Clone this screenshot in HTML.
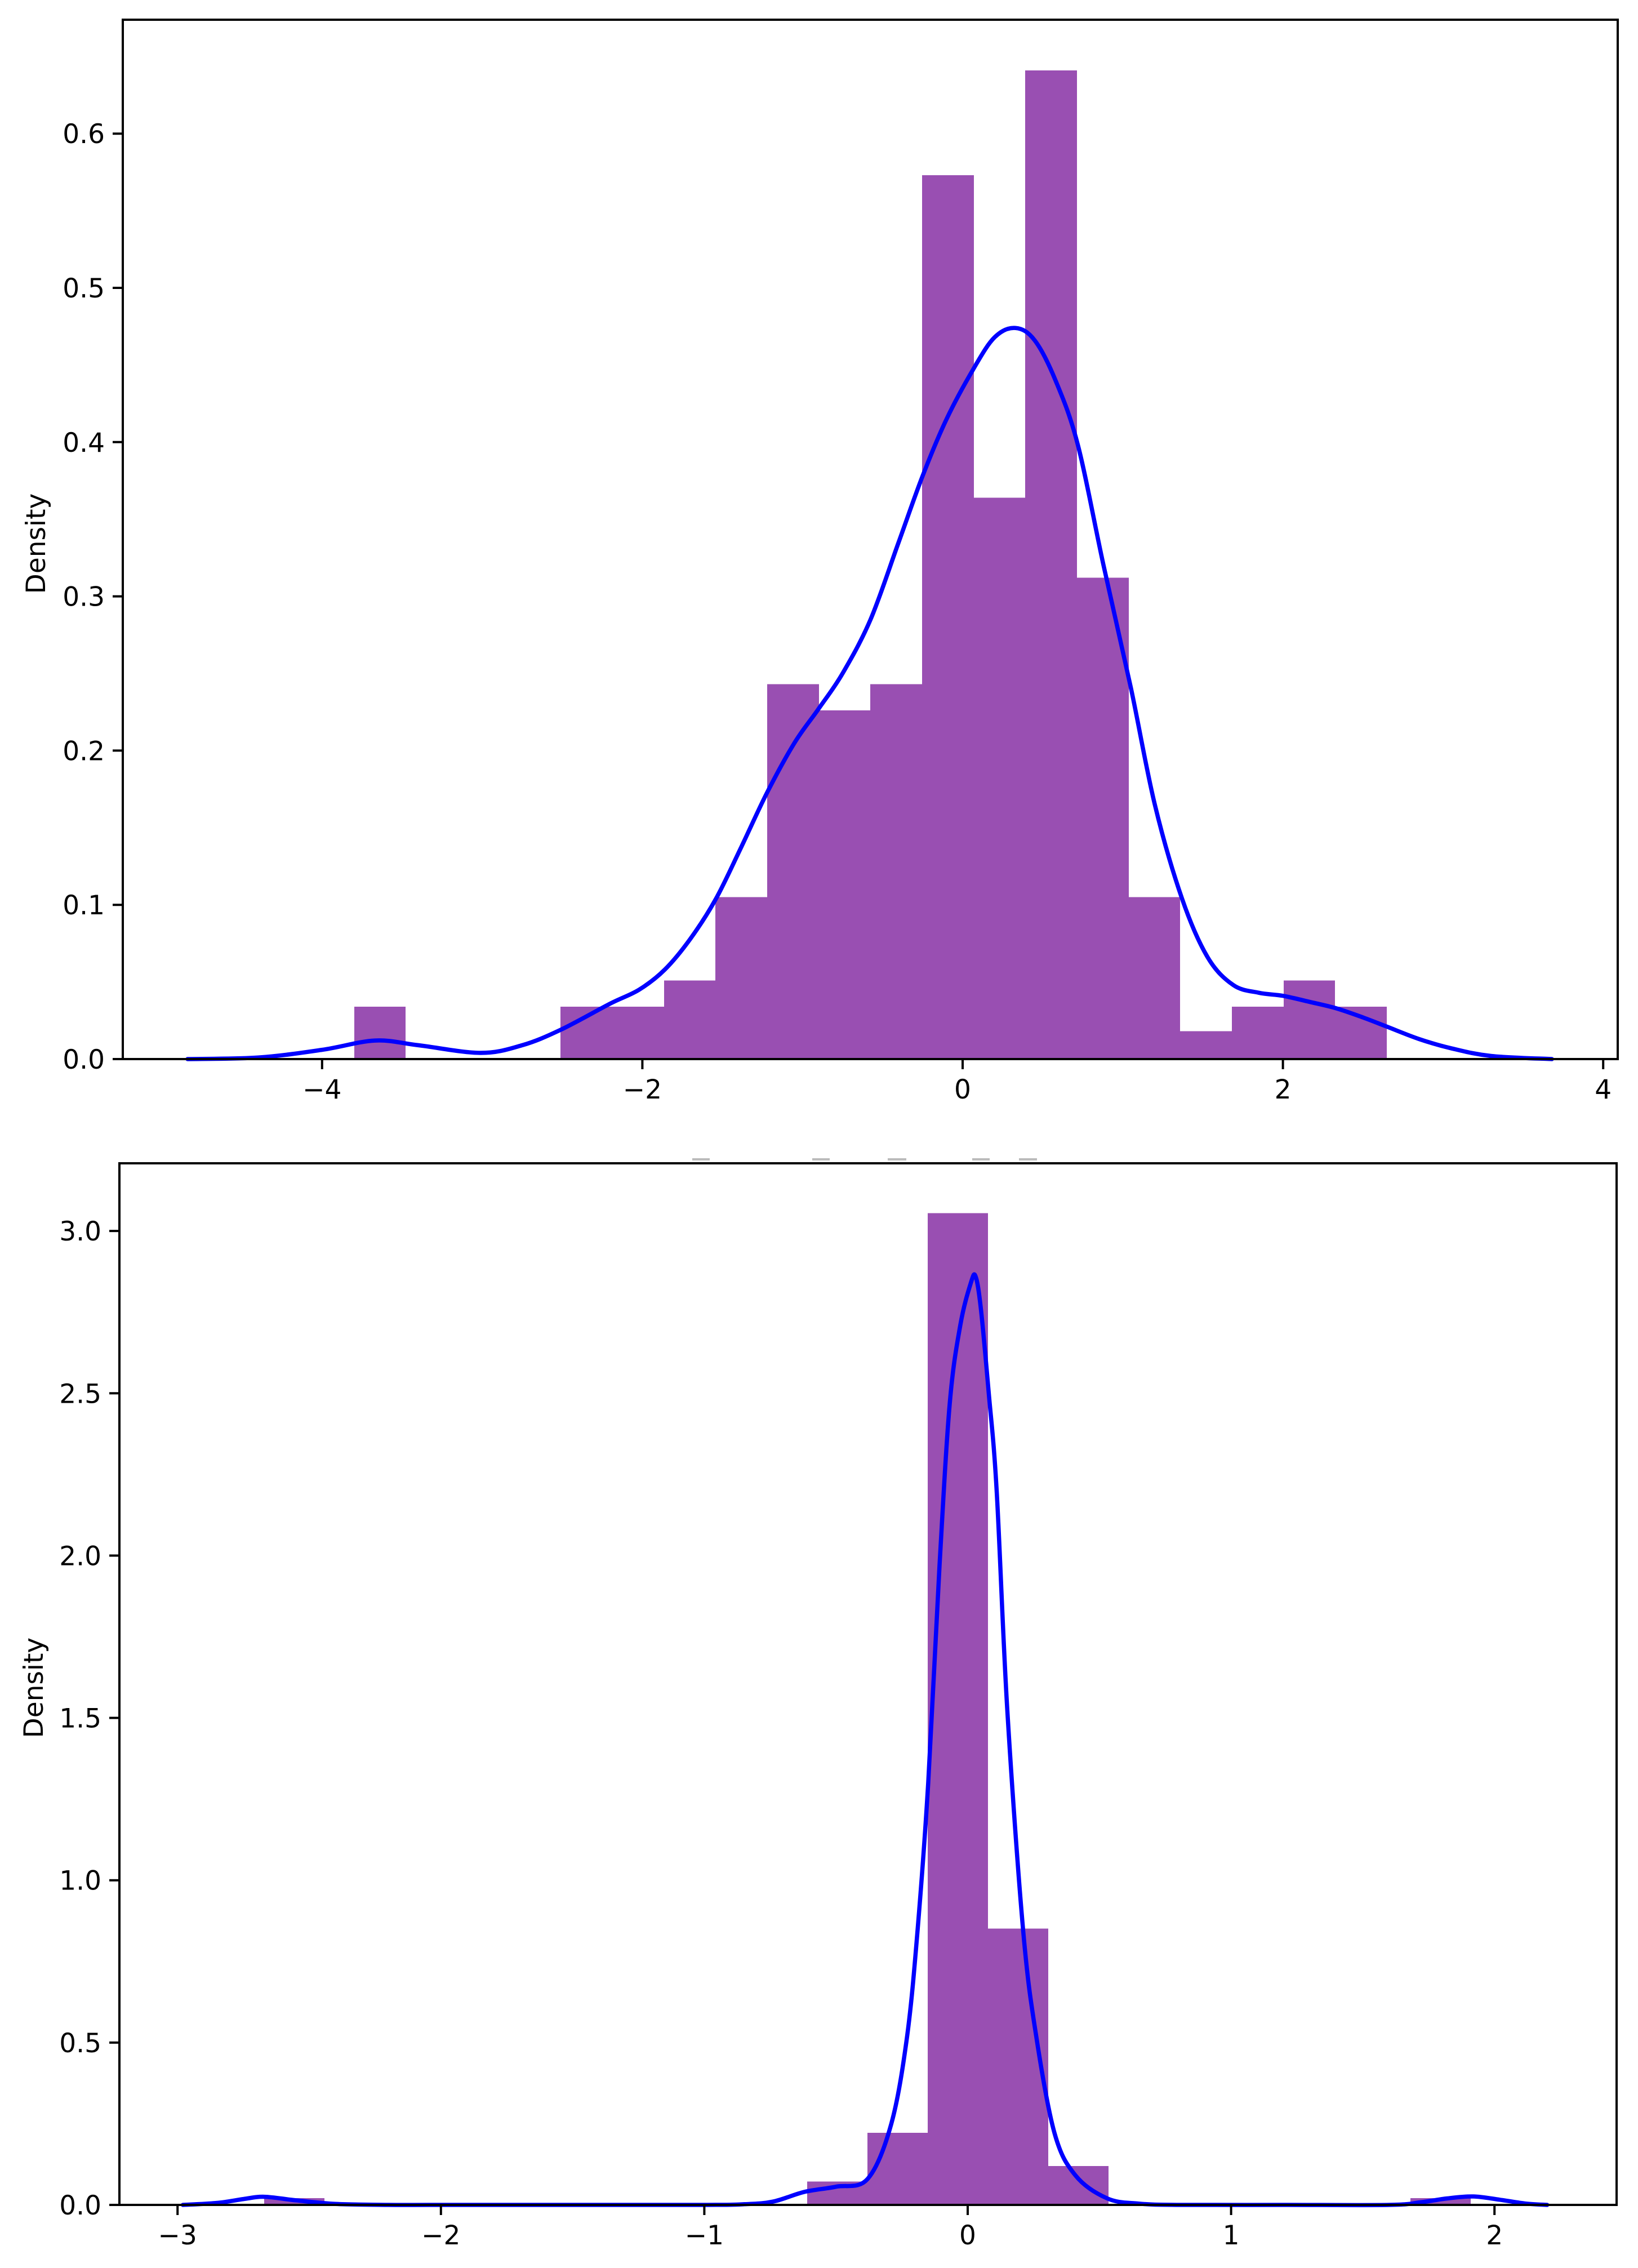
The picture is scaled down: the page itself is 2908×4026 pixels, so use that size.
<!DOCTYPE html>
<html><head><meta charset="utf-8">
<style>
html,body{margin:0;padding:0;background:#fff;}
svg{display:block;font-family:"DejaVu Sans","Liberation Sans",sans-serif;}
</style></head>
<body>
<svg id="fig" width="2908" height="4026" viewBox="0 0 2908 4026" xmlns="http://www.w3.org/2000/svg">
<rect x="0" y="0" width="2908" height="4026" fill="#fff"/>
<g fill="#bbbbbb">
<rect x="1229" y="2056" width="31" height="4"/><rect x="1442" y="2056" width="31" height="4"/><rect x="1576" y="2056" width="33" height="4"/><rect x="1726" y="2056" width="31" height="4"/><rect x="1809" y="2056" width="32" height="4"/>
</g>
</svg>
<script>
// ---- Top chart data ----
const topBinStart = -3.80;
const topBinWidth = 0.3224;
const topHeights = [0.034,0,0,0,0.034,0.034,0.051,0.105,0.243,0.226,0.243,0.573,0.364,0.641,0.312,0.105,0.018,0.034,0.051,0.034];
const topKdeX = [-4.84,-4.4,-4.0,-3.67,-3.4,-3.01,-2.75,-2.51,-2.2,-2.02,-1.86,-1.7,-1.54,-1.38,-1.22,-1.05,-0.9,-0.75,-0.575,-0.4,-0.25,-0.1,0.065,0.2,0.33,0.45,0.58,0.72,0.88,1.05,1.2,1.37,1.53,1.69,1.85,2.0,2.17,2.33,2.5,2.65,2.85,3.05,3.3,3.68];
const topKdeY = [0,0.001,0.006,0.012,0.009,0.004,0.009,0.019,0.036,0.045,0.058,0.078,0.104,0.138,0.173,0.205,0.227,0.25,0.285,0.335,0.378,0.415,0.447,0.468,0.474,0.466,0.44,0.398,0.32,0.241,0.165,0.104,0.066,0.048,0.043,0.041,0.037,0.033,0.027,0.021,0.013,0.007,0.002,0];
const topXTicks = [-4,-2,0,2,4];
const topXTickLabels = ["\u22124","\u22122","0","2","4"];
const topYTicks = [0,0.1,0.2,0.3,0.4,0.5,0.6];
const topYTickLabels = ["0.0","0.1","0.2","0.3","0.4","0.5","0.6"];

// ---- Bottom chart data ----
const botBinStart = -2.671;
const botBinWidth = 0.229;
const botHeights = [0.021,0,0,0,0,0,0,0,0,0.072,0.222,3.055,0.851,0.12,0,0,0,0,0,0.021];
const botKdeX = [-2.98,-2.85,-2.75,-2.67,-2.55,-2.4,-2.2,-2.0,-1.5,-1.0,-0.85,-0.74,-0.62,-0.5,-0.38,-0.29,-0.23,-0.19,-0.15,-0.107,-0.068,-0.028,0.012,0.03,0.05,0.08,0.11,0.15,0.21,0.26,0.33,0.41,0.53,0.65,0.8,1.2,1.6,1.72,1.82,1.92,2.02,2.12,2.2];
const botKdeY = [0,0.006,0.018,0.025,0.014,0.003,0,0,0,0,0.002,0.01,0.04,0.056,0.08,0.25,0.52,0.85,1.3,1.97,2.47,2.71,2.84,2.86,2.76,2.5,2.2,1.53,0.85,0.52,0.22,0.09,0.02,0.004,0,0,0,0.008,0.02,0.026,0.016,0.004,0];
const botXTicks = [-3,-2,-1,0,1,2];
const botXTickLabels = ["\u22123","\u22122","\u22121","0","1","2"];
const botYTicks = [0,0.5,1,1.5,2,2.5,3];
const botYTickLabels = ["0.0","0.5","1.0","1.5","2.0","2.5","3.0"];

const NS = "http://www.w3.org/2000/svg";
const svg = document.getElementById('fig');
function mk(tag, attrs, parent){
  const e = document.createElementNS(NS, tag);
  for (const k in attrs) e.setAttribute(k, attrs[k]);
  (parent||svg).appendChild(e);
  return e;
}
function smoothPath(pts){
  let d = 'M' + pts[0][0].toFixed(1) + ' ' + pts[0][1].toFixed(1);
  for (let i = 0; i < pts.length - 1; i++){
    const p0 = pts[Math.max(i-1,0)], p1 = pts[i], p2 = pts[i+1], p3 = pts[Math.min(i+2,pts.length-1)];
    const c1x = p1[0] + (p2[0]-p0[0])/6, c1y = p1[1] + (p2[1]-p0[1])/6;
    const c2x = p2[0] - (p3[0]-p1[0])/6, c2y = p2[1] - (p3[1]-p1[1])/6;
    d += 'C' + c1x.toFixed(1)+' '+c1y.toFixed(1)+' '+c2x.toFixed(1)+' '+c2y.toFixed(1)+' '+p2[0].toFixed(1)+' '+p2[1].toFixed(1);
  }
  return d;
}

function drawChart(cfg){
  const g = mk('g', {});
  
  
  const xs = v => cfg.x0px + (v - cfg.x0v) * cfg.xScale;
  const ys = v => cfg.y0px - v * cfg.yScale;
  const bars = mk('g', {fill:'#994fb2', 'shape-rendering':'crispEdges'}, g);
  
  
  cfg.heights.forEach((h, i) => {
    if (h <= 0) return;
    const a = Math.round(xs(cfg.binStart + i*cfg.binWidth)), b = Math.round(xs(cfg.binStart + (i+1)*cfg.binWidth));
    const r = mk('rect', {x:a, y:ys(h), width:b-a, height:cfg.y0px-ys(h)}, bars);
    
    
  });
  const pts = cfg.kdeX.map((v, i) => [xs(v), ys(cfg.kdeY[i])]);
  const line = mk('path', {d:smoothPath(pts), fill:'none', stroke:'#0000ff', 'stroke-width':7.5, 'stroke-linejoin':'round', 'stroke-linecap':'round'}, g);
  
  
  const fr = mk('rect', {x:cfg.L, y:cfg.T, width:cfg.R-cfg.L, height:cfg.B-cfg.T, fill:'none', stroke:'#000', 'stroke-width':4}, g);
  
  
  cfg.xTicks.forEach((t, i) => {
    const x = xs(t);
    const tk = mk('line', {x1:x, x2:x, y1:cfg.B, y2:cfg.B+18, stroke:'#000', 'stroke-width':4}, g);
    
    
    const tx = mk('text', {x:x, y:cfg.B+70, 'font-size':47, 'text-anchor':'middle', fill:'#000'}, g);
    
    
    tx.textContent = cfg.xLabels[i];
  });
  cfg.yTicks.forEach((t, i) => {
    const y = ys(t);
    const tk = mk('line', {x1:cfg.L-18, x2:cfg.L, y1:y, y2:y, stroke:'#000', 'stroke-width':4}, g);
    
    
    const tx = mk('text', {x:cfg.L-32, y:y+17, 'font-size':47, 'text-anchor':'end', fill:'#000'}, g);
    
    
    tx.textContent = cfg.yLabels[i];
  });
  const yl = mk('text', {x:0, y:0, 'font-size':47, 'text-anchor':'middle', fill:'#000', transform:'translate('+cfg.ylx+' '+cfg.yly+') rotate(-90)'}, g);
  
  
  yl.textContent = 'Density';
}

drawChart({name:'top-chart', L:218, R:2872, T:35, B:1880,
  x0v:0, x0px:1709, xScale:284.3, y0px:1880, yScale:2738,
  binStart:topBinStart, binWidth:topBinWidth, heights:topHeights,
  kdeX:topKdeX, kdeY:topKdeY, xTicks:topXTicks, xLabels:topXTickLabels,
  yTicks:topYTicks, yLabels:topYTickLabels, ylx:80, yly:965});

drawChart({name:'bottom-chart', L:212, R:2870, T:2065, B:3914,
  x0v:0, x0px:1718, xScale:467.6, y0px:3914, yScale:576.3,
  binStart:botBinStart, binWidth:botBinWidth, heights:botHeights,
  kdeX:botKdeX, kdeY:botKdeY, xTicks:botXTicks, xLabels:botXTickLabels,
  yTicks:botYTicks, yLabels:botYTickLabels, ylx:76, yly:2996});
</script>
</body></html>
